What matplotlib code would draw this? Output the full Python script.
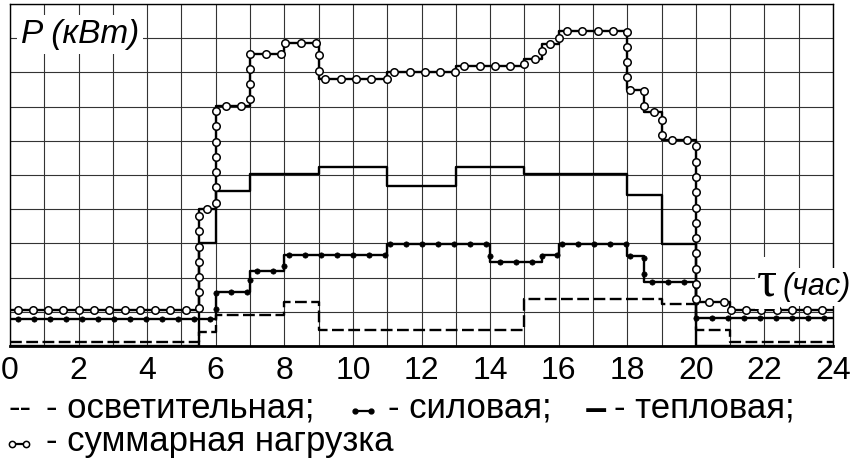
import numpy as np
import matplotlib
matplotlib.use("Agg")
import matplotlib.pyplot as plt
from matplotlib.patheffects import AbstractPathEffect
from matplotlib.path import Path
from matplotlib.transforms import Affine2D, IdentityTransform
from matplotlib import colors as mcolors

plt.rcParams['font.family'] = ['Liberation Sans', 'DejaVu Sans']
plt.rcParams['lines.scale_dashes'] = False

# ---------------- data (hours, kW in grid units) ----------------
hours_ticks = list(range(0, 25, 2))

light_edges = [0, 5.5, 6, 8, 9, 15, 19, 20, 21, 24]
light_vals = [0.13, 0.42, 0.9, 1.3, 0.47, 1.37, 1.23, 0.47, 0.13]

power_edges = [0, 6, 7, 8, 11, 14, 15.5, 16, 18, 18.5, 20, 24]
power_vals = [0.78, 1.57, 2.2, 2.67, 2.98, 2.46, 2.66, 2.98, 2.63, 1.88, 0.82]

thermal_edges = [0, 5.5, 6, 7, 9, 11, 13, 15, 18, 19, 20, 24]
thermal_vals = [0.0, 3.0, 4.54, 5.03, 5.24, 4.68, 5.24, 5.03, 4.41, 2.97, 0.0]

total_edges = [0, 5.5, 6, 7, 8, 9, 11, 13, 15, 15.5, 16, 18, 18.5, 19, 20, 21, 24]
total_vals = [1.05, 4.0, 7.02, 8.54, 8.86, 7.8, 8.02, 8.2, 8.38, 8.83, 9.22,
              7.49, 6.85, 6.02, 1.3, 1.05]

legend_light = "- осветительная;"
legend_power = "- силовая;"
legend_thermal = "- тепловая;"
legend_total = "- суммарная нагрузка"


class AlongPathMarkers(AbstractPathEffect):
    """Draws the path, then circles at equal spacing along it."""

    def __init__(self, spacing, size, face, edge='black', edge_lw=1.0, offset=0.5):
        super().__init__()
        self.spacing = spacing
        self.size = size
        self.face = face
        self.edge = edge
        self.edge_lw = edge_lw
        self.offset = offset

    def draw_path(self, renderer, gc, tpath, affine, rgbFace=None):
        renderer.draw_path(gc, tpath, affine, rgbFace)
        verts = affine.transform(tpath.vertices)
        seg = np.diff(verts, axis=0)
        seglen = np.hypot(seg[:, 0], seg[:, 1])
        cum = np.concatenate([[0.0], np.cumsum(seglen)])
        step = renderer.points_to_pixels(self.spacing)
        s = np.arange(step * self.offset, cum[-1], step)
        if len(s) == 0:
            return
        idx = np.clip(np.searchsorted(cum, s, side='right') - 1, 0, len(seglen) - 1)
        safe = np.where(seglen[idx] > 0, seglen[idx], 1.0)
        frac = (s - cum[idx]) / safe
        pts = verts[idx] + seg[idx] * frac[:, None]
        gc0 = renderer.new_gc()
        gc0.copy_properties(gc)
        gc0.set_linewidth(self.edge_lw)
        gc0.set_foreground(self.edge)
        gc0.set_dashes(0, None)
        r = renderer.points_to_pixels(self.size) / 2.0
        renderer.draw_markers(gc0, Path.unit_circle(), Affine2D().scale(r),
                              Path(pts), IdentityTransform(),
                              mcolors.to_rgba(self.face))
        gc0.restore()


W, H = 860, 462
fig = plt.figure(figsize=(W / 100, H / 100), dpi=100)
fig.patch.set_facecolor('white')
ax = fig.add_axes([10 / W, (H - 346) / H, 823 / W, 342 / H])
ax.set_xlim(0, 24)
ax.set_ylim(0, 10)

ax.set_xticks(hours_ticks)
ax.set_xticks(range(0, 25), minor=True)
ax.set_yticks(range(0, 11))
ax.set_yticklabels([])
ax.grid(True, which='both', color='#333333', lw=0.8)
ax.set_axisbelow(True)
ax.tick_params(axis='both', which='both', length=0)
ax.tick_params(axis='x', labelsize=23, pad=7, colors='black')
for sp in ax.spines.values():
    sp.set_color('black')
    sp.set_linewidth(1.0)
ax.spines['bottom'].set_linewidth(2.0)


def step_xy(edges, vals):
    return edges, list(vals) + [vals[-1]]


x, y = step_xy(light_edges, light_vals)
ax.plot(x, y, drawstyle='steps-post', color='black', lw=1.7,
        dashes=(8.5, 3.2), zorder=3)

x, y = step_xy(thermal_edges, thermal_vals)
ax.plot(x, y, drawstyle='steps-post', color='black', lw=1.7, zorder=4)

x, y = step_xy(power_edges, power_vals)
ax.plot(x, y, drawstyle='steps-post', color='black', lw=1.7, zorder=5,
        path_effects=[AlongPathMarkers(spacing=11.5, size=3.8, face='black',
                                       edge='black', edge_lw=0.5)])

x, y = step_xy(total_edges, total_vals)
ax.plot(x, y, drawstyle='steps-post', color='black', lw=1.7, zorder=6,
        path_effects=[AlongPathMarkers(spacing=11.0, size=5.4, face='white',
                                       edge='black', edge_lw=1.1)])

# ---- axis captions with white boxes ----
def fx(px):
    return px / W


def fy(py):
    return 1 - py / H


fig.text(fx(21), fy(43), "P (кВт)", fontsize=24, style='italic',
         va='baseline', ha='left', zorder=10,
         bbox=dict(boxstyle='square,pad=0.12', fc='white', ec='none'))
fig.text(fx(757), fy(295), "τ", fontsize=36, family=['Liberation Serif', 'DejaVu Serif'],
         va='baseline', ha='left', zorder=10,
         bbox=dict(boxstyle='square,pad=0.05', fc='white', ec='none'))
fig.text(fx(783), fy(295), "(час)", fontsize=22, style='italic',
         va='baseline', ha='left', zorder=10,
         bbox=dict(boxstyle='square,pad=0.12', fc='white', ec='none'))

# ---- legend (text + small glyphs) ----
LFS = 25
base1, base2 = 418, 451
fig.text(fx(9), fy(base1), "--", fontsize=LFS, va='baseline', ha='left')
fig.text(fx(46), fy(base1), legend_light, fontsize=LFS, va='baseline', ha='left')
fig.add_artist(plt.Line2D([fx(355), fx(371)], [fy(411), fy(411)], color='black',
                          lw=1.6, marker='o', ms=3.5, mfc='black', mec='black',
                          transform=fig.transFigure))
fig.text(fx(388), fy(base1), legend_power, fontsize=LFS, va='baseline', ha='left')
fig.text(fx(585), fy(421), "–", fontsize=29, fontweight='bold',
         va='baseline', ha='left')
fig.text(fx(614), fy(base1), legend_thermal, fontsize=LFS, va='baseline', ha='left')
fig.add_artist(plt.Line2D([fx(12), fx(26)], [fy(444), fy(444)], color='black',
                          lw=1.6, marker='o', ms=4.5, mfc='white', mec='black', mew=1.1,
                          transform=fig.transFigure))
fig.text(fx(46), fy(base2), legend_total, fontsize=LFS, va='baseline', ha='left')

fig.savefig('out.png', dpi=100, facecolor='white')
